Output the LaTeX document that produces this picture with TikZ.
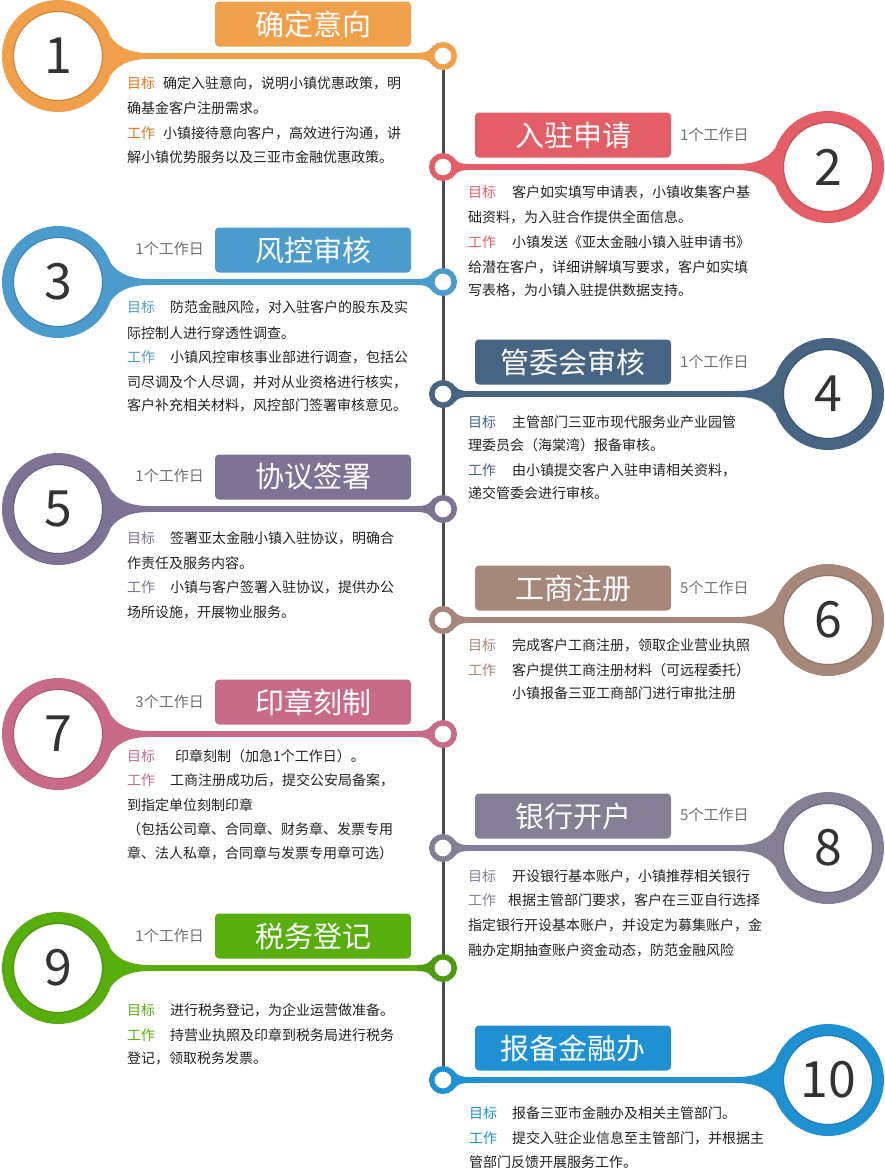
\documentclass[tikz,border=0pt]{standalone}
\usepackage{fontspec}
\setmainfont{Noto Sans CJK SC}
\usetikzlibrary{calc,backgrounds}
\definecolor{cA}{HTML}{F0A04B}
\definecolor{lA}{HTML}{E8731A}
\definecolor{cB}{HTML}{E45E67}
\definecolor{cC}{HTML}{4B9BCD}
\definecolor{cD}{HTML}{476482}
\definecolor{cE}{HTML}{7E7394}
\definecolor{cF}{HTML}{A5887A}
\definecolor{cG}{HTML}{C86B88}
\definecolor{cH}{HTML}{857F95}
\definecolor{cI}{HTML}{57AE0D}
\definecolor{cIdark}{HTML}{4E9A12}
\definecolor{cJ}{HTML}{1F91D2}
\definecolor{numgray}{HTML}{333333}
\definecolor{daygray}{HTML}{707070}
\definecolor{bodytext}{HTML}{222222}
\definecolor{linegray}{HTML}{4D4D4D}
\tikzset{
  bigc/.style={circle, fill=white, line width=12pt, minimum size=100pt, inner sep=0pt,
    font=\fontsize{50}{50}\selectfont, text=numgray},
  smallc/.style={circle, fill=white, line width=5.5pt, minimum size=22.5pt, inner sep=0pt},
  titlebox/.style={rounded corners=4pt, minimum width=196pt, minimum height=45pt, inner sep=0pt,
    text=white, font=\fontsize{29}{29}\selectfont},
  days/.style={text=daygray, font=\fontsize{15}{15}\selectfont, inner sep=0pt},
  body/.style={anchor=west, inner sep=0pt, text=bodytext, font=\fontsize{14}{14}\selectfont,
    text height=12.3pt, text depth=1.7pt},
  vline/.style={line width=3pt, draw=linegray},
}
% #1 id, #2 y, #3 ring colour, #4 number, #5 title, #6 small circle colour
\newcommand{\leftstep}[6]{%
  \node[bigc, draw=#3] (b#1) at (58,#2) {#4};
  \node[smallc, draw=#6] (s#1) at (443,#2) {};
  \node[titlebox, fill=#3] (t#1) at (313,#2-32) {#5};
  \begin{pgfonlayer}{background}
    \draw[#3, line width=6pt] (b#1.center) -- (s#1.center);
    \fill[#3] ($(b#1.center)+(52.6,-19.2)$) .. controls +(10,14) and +(-14,0) .. ($(b#1.center)+(92,-3)$)
      -- ($(b#1.center)+(92,3)$) .. controls +(-14,0) and +(10,-14) .. ($(b#1.center)+(52.6,19.2)$) -- cycle;
    \fill[#6] ($(s#1.center)+(-26,-3)$) .. controls +(12,0) and +(-4,4) .. ($(s#1.center)+(-9,-11)$)
      -- ($(s#1.center)+(-9,11)$) .. controls +(-4,-4) and +(12,0) .. ($(s#1.center)+(-26,3)$) -- cycle;
  \end{pgfonlayer}
  \draw[#3!70!black, line width=1.2pt, opacity=.45] (b#1.center) circle[radius=44.6pt];
}
\newcommand{\rightstep}[6]{%
  \node[bigc, draw=#3] (b#1) at (828,#2) {#4};
  \node[smallc, draw=#6] (s#1) at (443,#2) {};
  \node[titlebox, fill=#3] (t#1) at (573,#2-32) {#5};
  \begin{pgfonlayer}{background}
    \draw[#3, line width=6pt] (b#1.center) -- (s#1.center);
    \fill[#3] ($(b#1.center)+(-52.6,-19.2)$) .. controls +(-10,14) and +(14,0) .. ($(b#1.center)+(-92,-3)$)
      -- ($(b#1.center)+(-92,3)$) .. controls +(14,0) and +(-10,-14) .. ($(b#1.center)+(-52.6,19.2)$) -- cycle;
    \fill[#6] ($(s#1.center)+(26,-3)$) .. controls +(-12,0) and +(4,4) .. ($(s#1.center)+(9,-11)$)
      -- ($(s#1.center)+(9,11)$) .. controls +(4,-4) and +(-12,0) .. ($(s#1.center)+(26,3)$) -- cycle;
  \end{pgfonlayer}
  \draw[#3!70!black, line width=1.2pt, opacity=.45] (b#1.center) circle[radius=44.6pt];
}
\begin{document}
\begin{tikzpicture}[x=1pt,y=-1pt]
\useasboundingbox (0,0) rectangle (885,1168);

\leftstep{1}{56}{cA}{1}{确定意向}{cA}
\rightstep{2}{167}{cB}{2}{入驻申请}{cB}
\leftstep{3}{282}{cC}{3}{风控审核}{cC}
\rightstep{4}{394}{cD}{4}{管委会审核}{cD}
\leftstep{5}{509}{cE}{5}{协议签署}{cE}
\rightstep{6}{620}{cF}{6}{工商注册}{cF}
\leftstep{7}{734}{cG}{7}{印章刻制}{cG}
\rightstep{8}{848}{cH}{8}{银行开户}{cH}
\leftstep{9}{968}{cI}{9}{税务登记}{cIdark}
\rightstep{10}{1080}{cJ}{10}{报备金融办}{cJ}

\begin{pgfonlayer}{background}
  \draw[vline] (s1.center) -- (s10.center);
\end{pgfonlayer}

% days
\node[days, anchor=west] (d2) at (680,135) {1个工作日};
\node[days, anchor=east] (d3) at (204,249) {1个工作日};
\node[days, anchor=west] (d4) at (680,362) {1个工作日};
\node[days, anchor=east] (d5) at (204,476) {1个工作日};
\node[days, anchor=west] (d6) at (680,588) {5个工作日};
\node[days, anchor=east] (d7) at (204,702) {3个工作日};
\node[days, anchor=west] (d8) at (680,815) {5个工作日};
\node[days, anchor=east] (d9) at (204,936) {1个工作日};

% step 1
\node[body, text=lA] (g1) at (127,83) {目标};
\node[body] (g1a) at (163,83) {确定入驻意向，说明小镇优惠政策，明};
\node[body] (g1b) at (127,108) {确基金客户注册需求。};
\node[body, text=lA] (w1) at (127,133) {工作};
\node[body] (w1a) at (163,133) {小镇接待意向客户，高效进行沟通，讲};
\node[body] (w1b) at (127,157) {解小镇优势服务以及三亚市金融优惠政策。};

% step 2
\node[body, text=cB] (g2) at (468,192) {目标};
\node[body] (g2a) at (512,192) {客户如实填写申请表，小镇收集客户基};
\node[body] (g2b) at (468,217) {础资料，为入驻合作提供全面信息。};
\node[body, text=cB] (w2) at (468,242) {工作};
\node[body] (w2a) at (512,242) {小镇发送《亚太金融小镇入驻申请书》};
\node[body] (w2b) at (468,267) {给潜在客户，详细讲解填写要求，客户如实填};
\node[body] (w2c) at (468,290) {写表格，为小镇入驻提供数据支持。};

% step 3
\node[body, text=cC] (g3) at (127,307) {目标};
\node[body] (g3a) at (170,307) {防范金融风险，对入驻客户的股东及实};
\node[body] (g3b) at (127,333) {际控制人进行穿透性调查。};
\node[body, text=cC] (w3) at (127,357) {工作};
\node[body] (w3a) at (170,357) {小镇风控审核事业部进行调查，包括公};
\node[body] (w3b) at (127,382) {司尽调及个人尽调，并对从业资格进行核实，};
\node[body] (w3c) at (127,405) {客户补充相关材料，风控部门签署审核意见。};

% step 4
\node[body, text=cD] (g4) at (468,422) {目标};
\node[body] (g4a) at (512,422) {主管部门三亚市现代服务业产业园管};
\node[body] (g4b) at (468,445) {理委员会（海棠湾）报备审核。};
\node[body, text=cD] (w4) at (468,470) {工作};
\node[body] (w4a) at (512,470) {由小镇提交客户入驻申请相关资料，};
\node[body] (w4b) at (468,493) {递交管委会进行审核。};

% step 5
\node[body, text=cE] (g5) at (127,538) {目标};
\node[body] (g5a) at (170,538) {签署亚太金融小镇入驻协议，明确合};
\node[body] (g5b) at (127,563) {作责任及服务内容。};
\node[body, text=cE] (w5) at (127,587) {工作};
\node[body] (w5a) at (170,587) {小镇与客户签署入驻协议，提供办公};
\node[body] (w5b) at (127,612) {场所设施，开展物业服务。};

% step 6
\node[body, text=cF] (g6) at (468,645) {目标};
\node[body] (g6a) at (512,645) {完成客户工商注册，领取企业营业执照};
\node[body, text=cF] (w6) at (468,670) {工作};
\node[body] (w6a) at (512,670) {客户提供工商注册材料（可远程委托）};
\node[body] (w6b) at (512,693) {小镇报备三亚工商部门进行审批注册};

% step 7
\node[body, text=cG] (g7) at (127,756) {目标};
\node[body] (g7a) at (175,756) {印章刻制（加急1个工作日）。};
\node[body, text=cG] (w7) at (127,780) {工作};
\node[body] (w7a) at (170,780) {工商注册成功后，提交公安局备案，};
\node[body] (w7b) at (127,805) {到指定单位刻制印章};
\node[body] (w7c) at (127,829) {（包括公司章、合同章、财务章、发票专用};
\node[body] (w7d) at (127,853) {章、法人私章，合同章与发票专用章可选）};

% step 8
\node[body, text=cH] (g8) at (468,876) {目标};
\node[body] (g8a) at (512,876) {开设银行基本账户，小镇推荐相关银行};
\node[body, text=cH] (w8) at (468,900) {工作};
\node[body] (w8a) at (508,900) {根据主管部门要求，客户在三亚自行选择};
\node[body] (w8b) at (468,925) {指定银行开设基本账户，并设定为募集账户，金};
\node[body] (w8c) at (468,950) {融办定期抽查账户资金动态，防范金融风险};

% step 9
\node[body, text=cI] (g9) at (127,1010) {目标};
\node[body] (g9a) at (170,1010) {进行税务登记，为企业运营做准备。};
\node[body, text=cI] (w9) at (127,1035) {工作};
\node[body] (w9a) at (170,1035) {持营业执照及印章到税务局进行税务};
\node[body] (w9b) at (127,1058) {登记，领取税务发票。};

% step 10
\node[body, text=cJ] (g10) at (469,1113) {目标};
\node[body] (g10a) at (512,1113) {报备三亚市金融办及相关主管部门。};
\node[body, text=cJ] (w10) at (469,1138) {工作};
\node[body] (w10a) at (512,1138) {提交入驻企业信息至主管部门，并根据主};
\node[body] (w10b) at (469,1162) {管部门反馈开展服务工作。};
\end{tikzpicture}
\end{document}
